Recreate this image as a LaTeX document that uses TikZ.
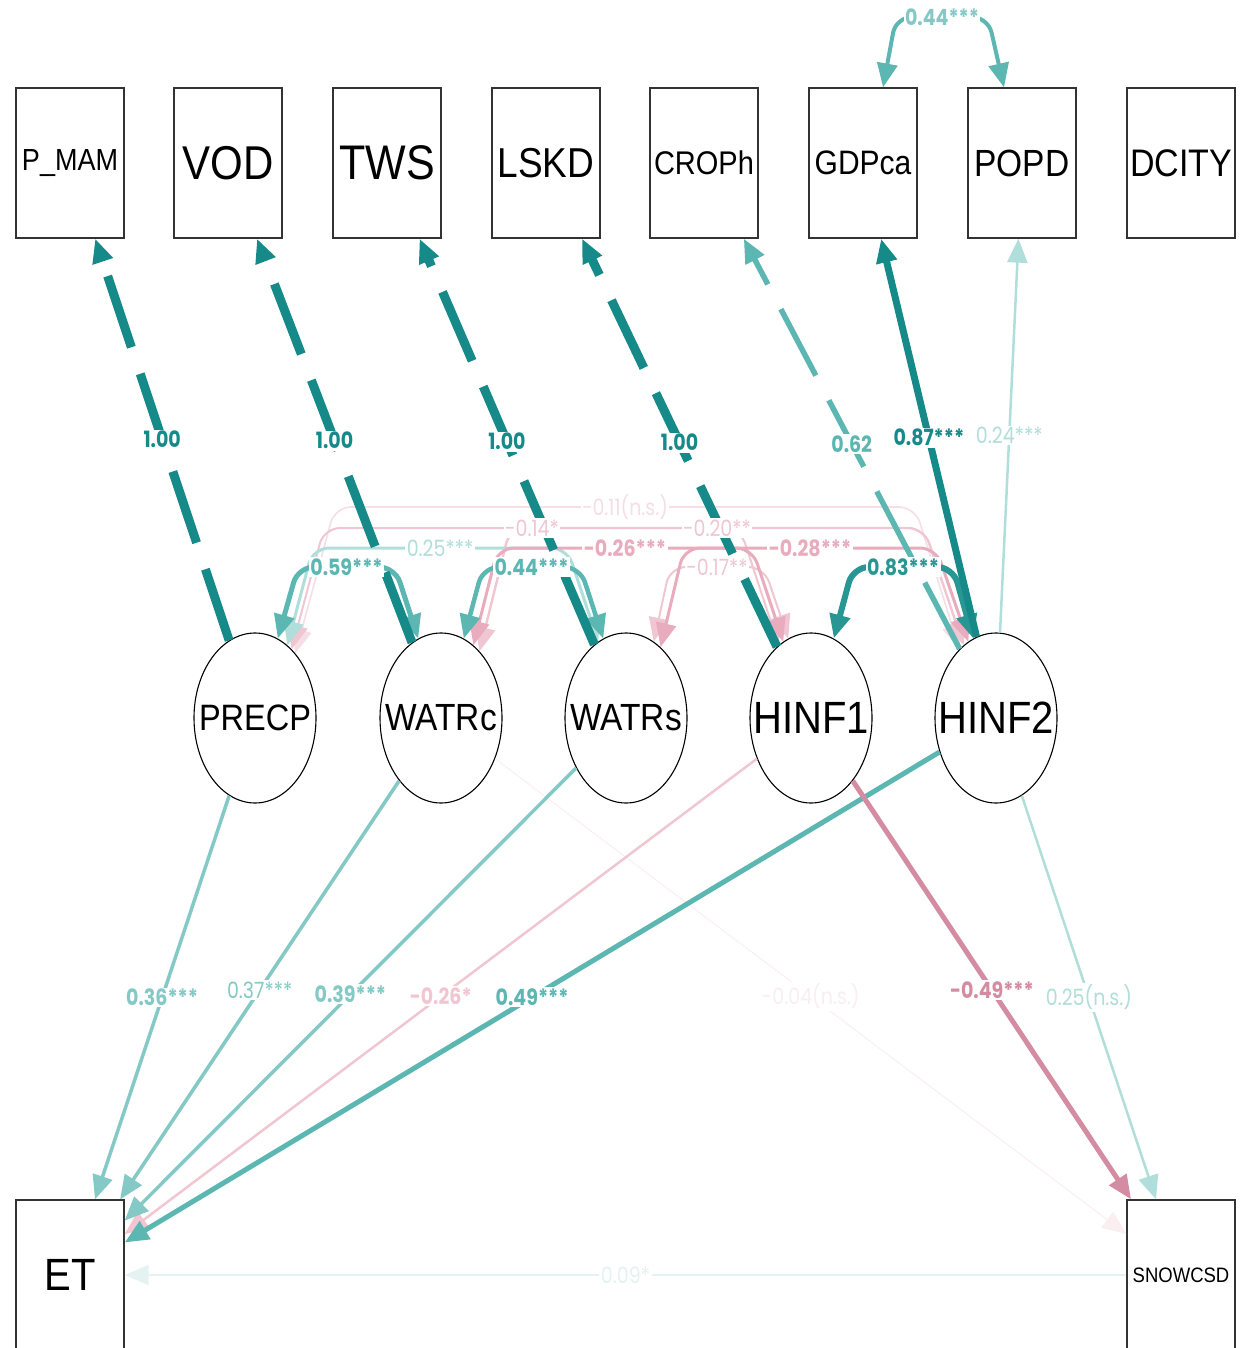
\documentclass[tikz,border=0pt]{standalone}
\usepackage{fontspec}
\usepackage{graphicx}
\setmainfont{Liberation Sans}
\newfontfamily\numfont{Poppins}
\usetikzlibrary{arrows.meta,shapes.geometric,calc}

% path colours, strongest to faintest
\definecolor{tealD}{RGB}{22,138,136}
\definecolor{tealDM}{RGB}{40,150,146}
\definecolor{tealM}{RGB}{92,182,177}
\definecolor{tealL}{RGB}{132,201,197}
\definecolor{tealLL}{RGB}{176,222,218}
\definecolor{tealF}{RGB}{228,242,241}
\definecolor{pinkM}{RGB}{212,140,163}
\definecolor{pinkL}{RGB}{232,172,190}
\definecolor{pinkLL}{RGB}{239,198,210}
\definecolor{pinkF}{RGB}{245,222,229}
\definecolor{pinkFF}{RGB}{250,238,241}

% variable names: set to a given size, slightly stretched vertically
\newcommand{\vname}[2]{\fontsize{#1}{#1}\selectfont\scalebox{1}[1.13]{#2}}
% latent names take no width, so the ellipse keeps its own size
\newcommand{\lname}[2]{\makebox[0pt]{\vname{#1}{#2}}}
% coefficient text, stretched vertically
\newcommand{\coef}[1]{\scalebox{1}[1.18]{#1}}

\begin{document}
\begin{tikzpicture}[x=1pt,y=-1pt,
  obs/.style={draw=black!80,line width=1.3pt,minimum width=108pt,minimum height=150pt,inner sep=0pt},
  lat/.style={ellipse,draw=black,line width=1.1pt,minimum width=122pt,minimum height=170pt,inner sep=0pt},
  tipA/.tip={Triangle[length=24pt,width=20pt]},
  path/.style={-tipA},
  cov/.style={tipA-tipA,rounded corners=16pt},
  dashload/.style={dash pattern=on 75pt off 28pt},
  lab/.style={fill=white,inner sep=1.5pt,font=\numfont\fontsize{19}{19}\selectfont},
  blab/.style={lab,font=\numfont\bfseries\fontsize{19}{19}\selectfont},
]
\useasboundingbox (0,0) rectangle (1248,1348);
\clip (0,0) rectangle (1248,1348);

% observed indicators
\node[obs] (pmam)  at (70,163)   {\vname{27}{P\_MAM}};
\node[obs] (vod)   at (228,163)  {\vname{42}{VOD}};
\node[obs] (tws)   at (387,163)  {\vname{43}{TWS}};
\node[obs] (lskd)  at (546,163)  {\vname{37}{LSKD}};
\node[obs] (croph) at (704,163)  {\vname{29}{CROPh}};
\node[obs] (gdpca) at (863,163)  {\vname{30}{GDPca}};
\node[obs] (popd)  at (1022,163) {\vname{33.5}{POPD}};
\node[obs] (dcity) at (1181,163) {\vname{34}{DCITY}};

% latent variables
\node[lat] (precp) at (255,718) {\lname{32.5}{PRECP}};
\node[lat] (watrc) at (441,718) {\lname{33.5}{WATRc}};
\node[lat] (watrs) at (626,718) {\lname{33.5}{WATRs}};
\node[lat] (hinf1) at (811,718) {\lname{40}{HINF1}};
\node[lat] (hinf2) at (996,718) {\lname{40}{HINF2}};

% outcomes
\node[obs] (et)   at (70,1275)   {\vname{40}{ET}};
\node[obs] (snow) at (1181,1275) {\vname{18.5}{SNOWCSD}};

% ---- faint paths first
\draw[path,tealF,line width=1.5pt]  (snow) -- coordinate[midway](m09) (et);
\draw[path,pinkFF,line width=1pt]   (watrc) -- coordinate[midway](m04) (snow);
\draw[cov,pinkF,line width=1.6pt]   (precp.58) -- (335,507) -- coordinate[midway](m11) (915,507) -- (hinf2.118);
\draw[cov,pinkLL,line width=2pt]    (precp.62) -- (324,528) -- coordinate[midway](m14) (740,528) -- (hinf1.114);
\draw[cov,pinkLL,line width=2.4pt]  (watrc.60) -- (510,528) -- coordinate[midway](m20) (924,528) -- (hinf2.114);
\draw[cov,pinkLL,line width=2pt]    (watrs.70) -- (670,567) -- coordinate[midway](m17) (764,567) -- (hinf1.106);
\draw[path,tealLL,line width=2.5pt] (hinf2) -- coordinate[midway](m24) (popd);
\draw[path,tealLL,line width=2.5pt] (hinf2) -- coordinate[midway](m25ns) (snow);
\draw[path,pinkLL,line width=2.5pt] (hinf1) -- coordinate[midway](m26s) (et);
\draw[cov,tealLL,line width=3pt]    (precp.66) -- (313,548) -- coordinate[midway](m25) (567,548) -- (watrs.110);
\draw[cov,pinkL,line width=3pt]     (watrc.66) -- (498,548) -- coordinate[midway](m26) (752,548) -- (hinf1.110);
\draw[cov,pinkL,line width=3pt]     (watrs.64) -- (684,548) -- coordinate[midway](m28) (936,548) -- (hinf2.110);

% ---- medium paths
\draw[path,tealL,line width=3.5pt] (precp) -- coordinate[midway](m36) (et);
\draw[path,tealL,line width=3.5pt] (watrc) -- coordinate[midway](m37) (et);
\draw[path,tealL,line width=3.5pt] (watrs) -- coordinate[midway](m39) (et);
\draw[path,tealM,line width=5pt]   (hinf2) -- coordinate[midway](m49) (et);
\draw[path,pinkM,line width=5pt]   (hinf1) -- coordinate[midway](m49n) (snow);
\draw[cov,tealM,line width=4.5pt]  (watrc.74) -- (483,567) -- coordinate[midway](m44) (580,567) -- (watrs.106);
\draw[cov,tealM,line width=5pt]    (precp.74) -- (298,567) -- coordinate[midway](m59) (395,567) -- (watrc.106);
\draw[cov,tealM,line width=4pt]    ([xshift=20pt]gdpca.north) -- (896,17) -- coordinate[midway](m44t) (988,17) -- ([xshift=-18pt]popd.north);
\draw[path,dashload,tealM,line width=5.5pt] (hinf2) -- coordinate[midway](m62) (croph);

% ---- strong paths
\draw[cov,tealDM,line width=6pt] (hinf1.74) -- (853,567) -- coordinate[midway](m83) (953,567) -- (hinf2.106);
\draw[path,dashload,tealD,line width=9pt] (precp) -- coordinate[midway](ma) (pmam);
\draw[path,dashload,tealD,line width=9pt] (watrc) -- coordinate[midway](mb) (vod);
\draw[path,dashload,tealD,line width=9pt] (watrs) -- coordinate[midway](mc) (tws);
\draw[path,dashload,tealD,line width=9pt] (hinf1) -- coordinate[midway](md) (lskd);
\draw[path,tealD,line width=7pt] (hinf2) -- coordinate[midway](m87) (gdpca);

% ---- coefficient labels
\node[lab,text=tealF]  at (m09)   {\coef{0.09*}};
\node[lab,text=pinkFF] at (m04)   {\coef{-0.04(n.s.)}};
\node[lab,text=pinkF]  at (m11)   {\coef{-0.11(n.s.)}};
\node[lab,text=pinkLL] at (m14)   {\coef{-0.14*}};
\node[lab,text=pinkLL] at (m20)   {\coef{-0.20**}};
\node[lab,text=pinkLL] at (m17)   {\coef{-0.17**}};
\node[lab,text=tealLL] at (m24)   {\coef{0.24***}};
\node[lab,text=tealLL] at (m25ns) {\coef{0.25(n.s.)}};
\node[blab,text=pinkLL] at (m26s) {\coef{-0.26*}};
\node[lab,text=tealLL] at (m25)   {\coef{0.25***}};
\node[blab,text=pinkL] at (m26)   {\coef{-0.26***}};
\node[blab,text=pinkL] at (m28)   {\coef{-0.28***}};
\node[blab,text=tealL] at (m36)   {\coef{0.36***}};
\node[lab,text=tealL]  at (m37)   {\coef{0.37***}};
\node[blab,text=tealL] at (m39)   {\coef{0.39***}};
\node[blab,text=tealM] at (m49)   {\coef{0.49***}};
\node[blab,text=pinkM] at (m49n)  {\coef{-0.49***}};
\node[blab,text=tealM] at (m44)   {\coef{0.44***}};
\node[blab,text=tealM] at (m59)   {\coef{0.59***}};
\node[blab,text=tealL] at (m44t)  {\coef{0.44***}};
\node[blab,text=tealM] at (m62)   {\coef{0.62}};
\node[blab,text=tealDM] at (m83)  {\coef{0.83***}};
\node[blab,text=tealD] at (ma)    {\coef{1.00}};
\node[blab,text=tealD] at (mb)    {\coef{1.00}};
\node[blab,text=tealD] at (mc)    {\coef{1.00}};
\node[blab,text=tealD] at (md)    {\coef{1.00}};
\node[blab,text=tealD] at (m87)   {\coef{0.87***}};
\end{tikzpicture}
\end{document}
